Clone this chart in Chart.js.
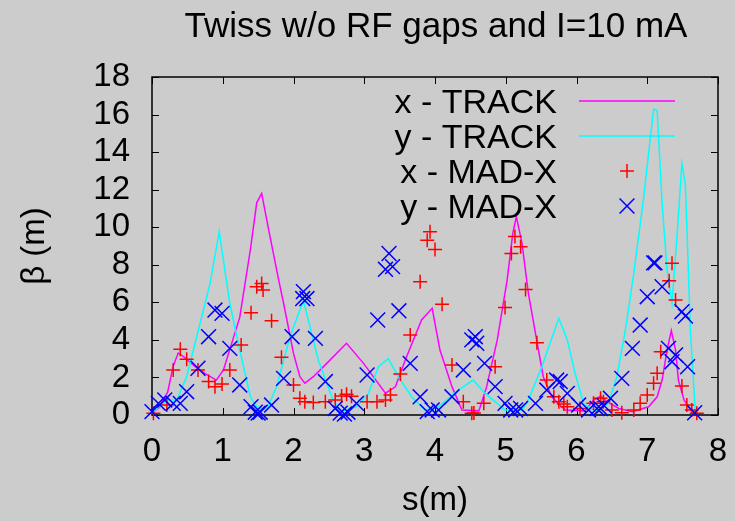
<!DOCTYPE html>
<html lang="en">
<head>
    <meta charset="UTF-8">
    <title>Twiss w/o RF gaps and I=10 mA</title>
    <script src="https://cdn.jsdelivr.net/npm/chart.js"></script>
    <style>
        html, body {
            margin: 0;
            padding: 0;
            background: #cccccc;
        }
        #twissChart {
            display: block;
        }
    </style>
</head>
<body>
    <canvas id="twissChart" width="735" height="521"></canvas>

    <script>
        // x - TRACK (line)
        const xTrackS = [0, 0.1, 0.22, 0.3, 0.37, 0.45, 0.6, 0.75, 0.91, 1.01, 1.24, 1.39, 1.48, 1.55, 1.65, 1.79, 1.86, 2.0, 2.09, 2.16,
            2.28, 2.47, 2.75, 2.99, 3.3, 3.44, 3.58, 3.81, 3.96, 4.07, 4.24, 4.38, 4.62, 4.73, 4.88, 5.02, 5.1, 5.15, 5.23, 5.32,
            5.42, 5.53, 5.65, 5.79, 5.84, 6.12, 6.24, 6.34, 6.43, 6.6, 6.79, 7.02, 7.14, 7.21, 7.28, 7.34, 7.4, 7.44, 7.52, 7.61, 7.7];
        const xTrackBeta = [0.1, 0.4, 1.2, 2.6, 3.3, 3.1, 2.6, 2.2, 1.86, 2.4, 5.2, 8.8, 11.3, 11.8, 9.85, 7.2, 5.95, 3.28, 2.04, 1.69,
            2.04, 2.75, 3.82, 2.75, 1.16, 1.5, 2.93, 5.06, 5.68, 3.46, 1.51, 0.27, 0.22, 1.51, 4.0, 7.2, 9.68, 10.56, 9.14, 6.48,
            4.35, 2.04, 0.97, 0.44, 0.27, 0.22, 0.8, 1.0, 0.71, 0.35, 0.18, 0.44, 0.97, 1.86, 3.46, 4.5, 3.46, 1.86, 0.8, 0.27, 0.09];

        // y - TRACK (line)
        const yTrackS = [0, 0.21, 0.35, 0.49, 0.68, 0.82, 0.95, 1.1, 1.24, 1.39, 1.48, 1.62, 1.76, 1.95, 2.14, 2.35, 2.54, 2.66, 2.89, 3.06,
            3.2, 3.34, 3.48, 3.67, 3.86, 4.05, 4.33, 4.54, 4.71, 4.99, 5.23, 5.32, 5.51, 5.75, 5.87, 5.98, 6.1, 6.27, 6.45, 6.57,
            6.69, 6.81, 6.95, 7.09, 7.14, 7.21, 7.28, 7.35, 7.42, 7.49, 7.54, 7.61, 7.68];
        const yTrackBeta = [0.1, 0.8, 0.8, 2.04, 4.9, 7.0, 9.76, 5.95, 3.46, 0.97, 0.44, 0.27, 1.5, 4.17, 6.1, 2.93, 0.97, 0.18, 0.44, 1.15,
            2.57, 3.0, 2.04, 0.97, 0.27, 0.44, 1.33, 1.86, 1.15, 0.27, 0.27, 0.8, 2.57, 5.15, 4.0, 2.22, 0.62, 0.18, 0.62, 2.04,
            4.5, 7.55, 11.6, 16.3, 16.2, 11.3, 7.7, 5.95, 9.5, 13.4, 12.2, 4.5, 0.1];

        // x - MAD-X (points)
        const xMadS = [0.02, 0.21, 0.3, 0.4, 0.49, 0.65, 0.8, 0.89, 0.99, 1.1, 1.26, 1.4, 1.48, 1.55, 1.57, 1.69, 1.83, 2.0, 2.09, 2.16,
            2.28, 2.45, 2.59, 2.68, 2.75, 2.82, 3.04, 3.18, 3.3, 3.37, 3.51, 3.65, 3.79, 3.89, 3.93, 4.0, 4.1, 4.24, 4.4, 4.52,
            4.55, 4.69, 4.85, 4.99, 5.08, 5.13, 5.21, 5.28, 5.44, 5.58, 5.68, 5.75, 5.82, 5.87, 6.05, 6.24, 6.34, 6.38, 6.5, 6.64,
            6.81, 6.9, 7.0, 7.09, 7.14, 7.19, 7.31, 7.35, 7.4, 7.49, 7.56, 7.63, 7.7];
        const xMadBeta = [0.09, 0.53, 2.4, 3.5, 2.97, 2.4, 1.78, 1.51, 1.65, 2.4, 3.73, 5.45, 6.83, 7.0, 6.66, 5.02, 3.07, 1.6, 0.89, 0.71,
            0.66, 0.71, 0.8, 1.01, 1.1, 1.0, 0.71, 0.71, 0.8, 1.06, 2.18, 4.26, 7.1, 9.3, 9.76, 8.82, 5.9, 2.66, 0.71, 0.09,
            0.1, 0.62, 2.57, 5.73, 8.6, 9.5, 8.96, 6.69, 3.85, 1.86, 0.97, 0.71, 0.59, 0.44, 0.35, 0.62, 0.89, 0.7, 0.27, 0.12,
            0.27, 0.62, 1.06, 1.69, 2.22, 3.37, 7.15, 8.08, 6.12, 1.54, 0.53, 0.27, 0.09];

        // y - MAD-X (points)
        const yMadS = [0, 0.09, 0.18, 0.3, 0.4, 0.49, 0.65, 0.8, 0.89, 0.99, 1.1, 1.24, 1.4, 1.46, 1.5, 1.53, 1.69, 1.86, 1.98, 2.14,
            2.13, 2.19, 2.31, 2.45, 2.59, 2.66, 2.72, 2.77, 2.89, 3.04, 3.19, 3.3, 3.35, 3.4, 3.49, 3.65, 3.79, 3.89, 3.96, 4.05,
            4.24, 4.4, 4.52, 4.57, 4.59, 4.7, 4.85, 4.99, 5.07, 5.14, 5.21, 5.42, 5.58, 5.72, 5.77, 5.87, 6.03, 6.17, 6.29, 6.34,
            6.39, 6.48, 6.64, 6.79, 6.9, 7.0, 7.09, 7.11, 7.21, 7.3, 7.35, 7.4, 7.49, 7.54, 7.57, 7.67];
        const yMadBeta = [0.18, 0.62, 0.8, 0.62, 0.62, 1.24, 2.49, 4.17, 5.59, 5.41, 3.55, 1.6, 0.44, 0.15, 0.1, 0.15, 0.53, 1.95, 4.17, 6.57,
            6.2, 6.2, 4.08, 1.78, 0.35, 0.1, 0.05, 0.15, 0.62, 2.13, 5.06, 7.76, 8.6, 7.9, 5.55, 2.75, 0.97, 0.18, 0.27, 0.27,
            0.97, 2.4, 4.0, 4.17, 3.82, 2.75, 1.51, 0.62, 0.27, 0.27, 0.35, 0.62, 1.33, 1.86, 1.78, 1.15, 0.53, 0.27, 0.35, 0.35,
            0.5, 0.89, 1.95, 3.55, 4.79, 6.3, 8.1, 8.1, 6.83, 3.55, 2.84, 3.2, 5.5, 5.27, 2.57, 0.12];

        const xTicks = [0, 1, 2, 3, 4, 5, 6, 7, 8];
        const yTicks = [0, 2, 4, 6, 8, 10, 12, 14, 16, 18];

        const seriesLabels = ['x - TRACK', 'y - TRACK', 'x - MAD-X', 'y - MAD-X'];

        const fontFamily = '"Liberation Sans", Arial, sans-serif';

        function toPoints(sArr, betaArr) {
            return sArr.map((s, i) => ({ x: s, y: betaArr[i] }));
        }

        // grey page background
        const bgPlugin = {
            id: 'bg',
            beforeDraw(chart) {
                const ctx = chart.ctx;
                ctx.save();
                ctx.fillStyle = '#cccccc';
                ctx.fillRect(0, 0, chart.width, chart.height);
                ctx.restore();
            }
        };

        // gnuplot style frame with inward ticks on all four sides
        const framePlugin = {
            id: 'frame',
            beforeDatasetsDraw(chart) {
                const ctx = chart.ctx;
                const a = chart.chartArea;
                const xs = chart.scales.x;
                const ys = chart.scales.y;
                ctx.save();
                ctx.strokeStyle = '#000000';
                ctx.lineWidth = 1;
                xTicks.forEach(v => {
                    const px = Math.round(xs.getPixelForValue(v)) + 0.5;
                    ctx.beginPath();
                    ctx.moveTo(px, a.bottom);
                    ctx.lineTo(px, a.bottom - 7);
                    ctx.moveTo(px, a.top);
                    ctx.lineTo(px, a.top + 7);
                    ctx.stroke();
                });
                yTicks.forEach(v => {
                    const py = Math.round(ys.getPixelForValue(v)) + 0.5;
                    ctx.beginPath();
                    ctx.moveTo(a.left, py);
                    ctx.lineTo(a.left + 7, py);
                    ctx.moveTo(a.right, py);
                    ctx.lineTo(a.right - 7, py);
                    ctx.stroke();
                });
                ctx.lineWidth = 1.5;
                ctx.strokeRect(a.left, a.top, a.right - a.left, a.bottom - a.top);
                ctx.restore();
            }
        };

        // title and key, placed like the gnuplot original
        const textPlugin = {
            id: 'texts',
            afterDraw(chart) {
                const ctx = chart.ctx;
                ctx.save();
                ctx.fillStyle = '#000000';
                ctx.font = '35px ' + fontFamily;
                ctx.textAlign = 'center';
                ctx.textBaseline = 'alphabetic';
                ctx.fillText('Twiss w/o RF gaps and I=10 mA', 436, 37);

                ctx.font = '34px ' + fontFamily;
                ctx.textAlign = 'right';
                chart.data.datasets.forEach((ds, i) => {
                    const rowY = 101 + i * 35;
                    ctx.fillStyle = '#000000';
                    ctx.fillText(ds.label, 557, rowY + 12);
                    if (ds.showLine) {
                        ctx.strokeStyle = ds.borderColor;
                        ctx.lineWidth = ds.borderWidth;
                        ctx.beginPath();
                        ctx.moveTo(579, rowY);
                        ctx.lineTo(675, rowY);
                        ctx.stroke();
                    } else {
                        ctx.strokeStyle = ds.borderColor;
                        ctx.fillStyle = ds.borderColor;
                        ctx.lineWidth = ds.borderWidth;
                        Chart.helpers.drawPoint(ctx, {
                            pointStyle: ds.pointStyle,
                            radius: ds.pointRadius,
                            rotation: 0,
                            borderWidth: ds.borderWidth
                        }, 627, rowY);
                    }
                });
                ctx.restore();
            }
        };

        new Chart(document.getElementById('twissChart').getContext('2d'), {
            type: 'scatter',
            data: {
                datasets: [{
                    label: seriesLabels[0],
                    data: toPoints(xTrackS, xTrackBeta),
                    showLine: true,
                    borderColor: '#ff00ff',
                    borderWidth: 1.5,
                    pointRadius: 0,
                    tension: 0,
                    order: 4
                }, {
                    label: seriesLabels[1],
                    data: toPoints(yTrackS, yTrackBeta),
                    showLine: true,
                    borderColor: '#00ffff',
                    borderWidth: 1.5,
                    pointRadius: 0,
                    tension: 0,
                    order: 3
                }, {
                    label: seriesLabels[2],
                    data: toPoints(xMadS, xMadBeta),
                    showLine: false,
                    pointStyle: 'cross',
                    pointRadius: 7,
                    borderColor: '#ff0000',
                    backgroundColor: '#ff0000',
                    borderWidth: 1.5,
                    clip: false,
                    order: 2
                }, {
                    label: seriesLabels[3],
                    data: toPoints(yMadS, yMadBeta),
                    showLine: false,
                    pointStyle: 'crossRot',
                    pointRadius: 10.5,
                    borderColor: '#0000ff',
                    backgroundColor: '#0000ff',
                    borderWidth: 1.5,
                    clip: false,
                    order: 1
                }]
            },
            options: {
                responsive: false,
                animation: false,
                devicePixelRatio: 1,
                layout: {
                    padding: { top: 77, right: 17, left: 0, bottom: 0 }
                },
                scales: {
                    x: {
                        type: 'linear',
                        min: 0,
                        max: 8,
                        afterFit: scale => {
                            scale.height = 106;
                            scale.paddingLeft = 0;
                            scale.paddingRight = 0;
                        },
                        afterBuildTicks: scale => { scale.ticks = xTicks.map(v => ({ value: v })); },
                        grid: { display: false, drawTicks: false },
                        border: { display: false },
                        ticks: {
                            color: '#000000',
                            padding: 17,
                            maxRotation: 0,
                            autoSkip: false,
                            font: { family: fontFamily, size: 33 }
                        },
                        title: {
                            display: true,
                            text: 's(m)',
                            color: '#000000',
                            padding: { top: 0, bottom: 0 },
                            font: { family: fontFamily, size: 33 }
                        }
                    },
                    y: {
                        type: 'linear',
                        min: 0,
                        max: 18,
                        afterFit: scale => {
                            scale.width = 152;
                            scale.paddingTop = 0;
                            scale.paddingBottom = 0;
                        },
                        afterBuildTicks: scale => { scale.ticks = yTicks.map(v => ({ value: v })); },
                        grid: { display: false, drawTicks: false },
                        border: { display: false },
                        ticks: {
                            color: '#000000',
                            padding: 22,
                            autoSkip: false,
                            font: { family: fontFamily, size: 33 }
                        },
                        title: {
                            display: true,
                            text: 'β (m)',
                            color: '#000000',
                            padding: { top: 15, bottom: 0 },
                            font: { family: fontFamily, size: 33 }
                        }
                    }
                },
                plugins: {
                    legend: { display: false },
                    tooltip: { enabled: false },
                    title: { display: false }
                }
            },
            plugins: [bgPlugin, framePlugin, textPlugin]
        });
    </script>
</body>
</html>
